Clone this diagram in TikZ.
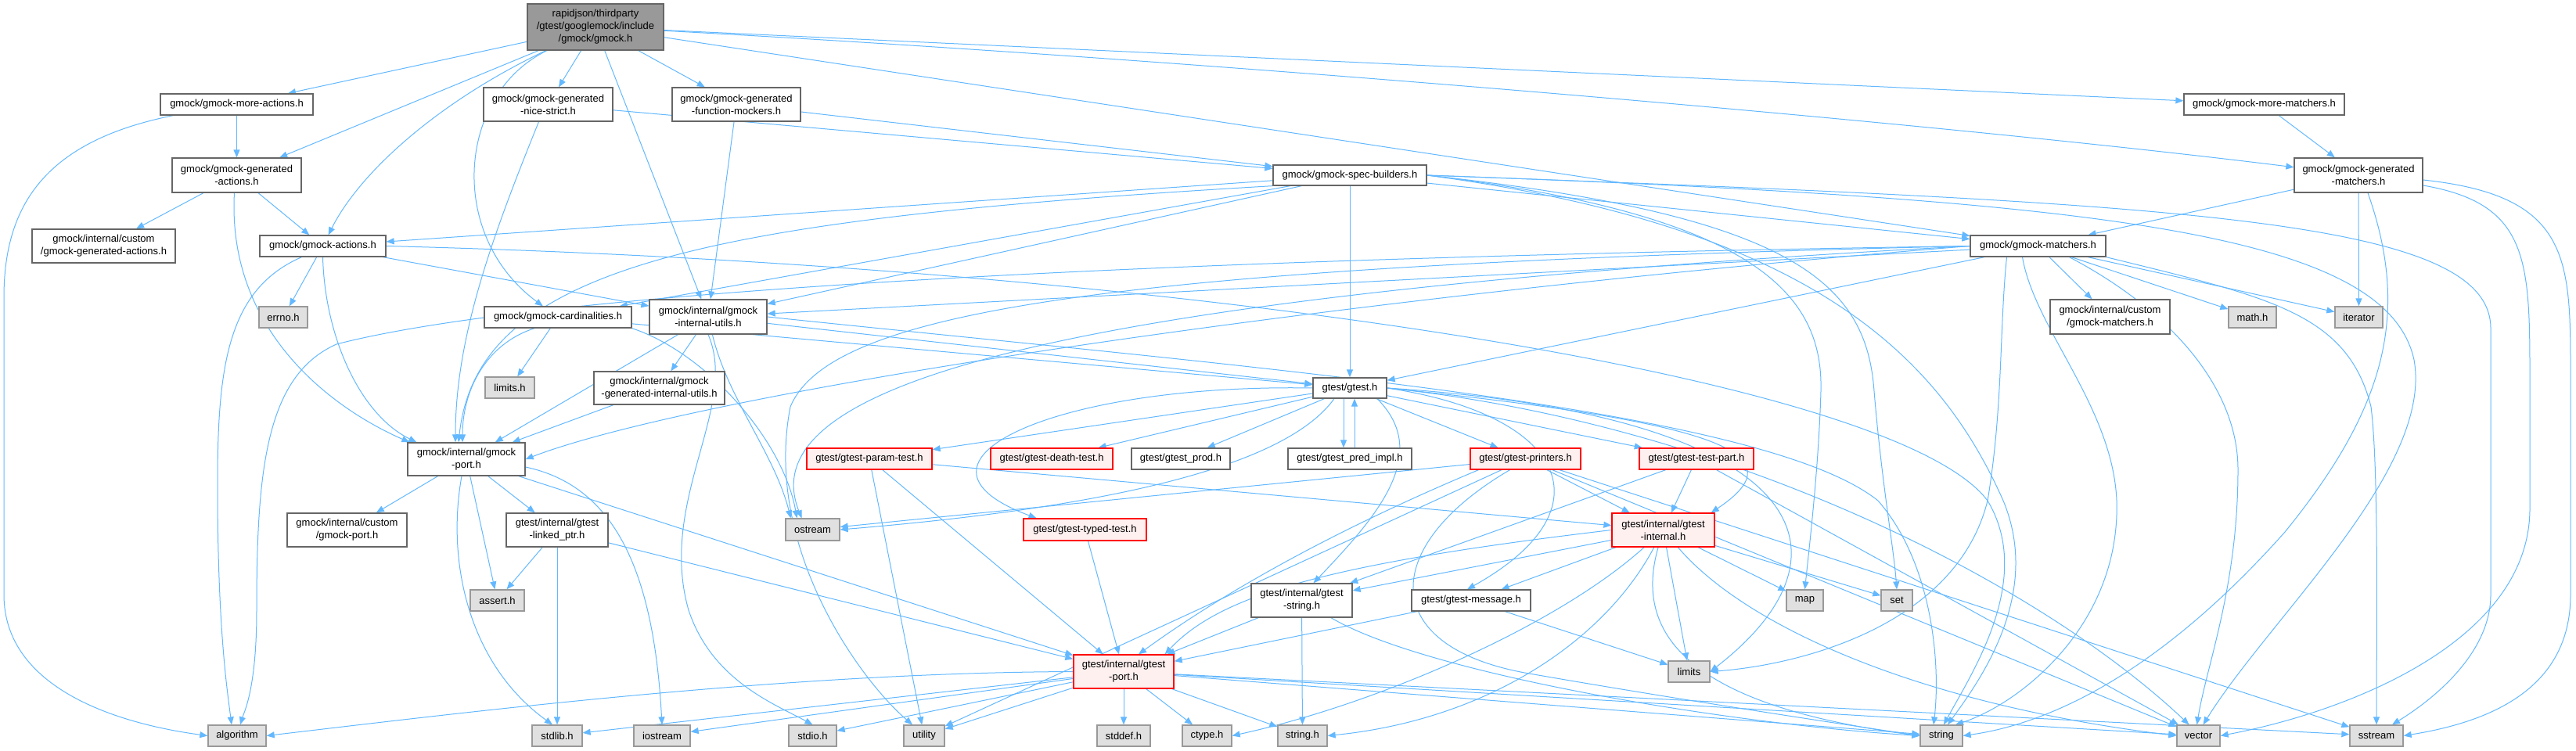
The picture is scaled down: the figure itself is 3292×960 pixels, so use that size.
\documentclass[tikz,border=0pt]{standalone}
\usepackage{fontspec}
\setmainfont{Liberation Sans}
\usetikzlibrary{arrows.meta,backgrounds}
\definecolor{edgec}{RGB}{99,184,255}
\definecolor{nbord}{RGB}{102,102,102}
\definecolor{gbord}{RGB}{153,153,153}
\definecolor{gfill}{RGB}{224,224,224}
\definecolor{rfill}{RGB}{255,240,240}
\definecolor{rootfill}{RGB}{153,153,153}
\newcommand\nd[7]{\node[#1, minimum width={#4-#3}, minimum height={#6-#5}] (#2) at ({(#3+#4)/2},{(#5+#6)/2}) {#7};}
\begin{document}
\begin{tikzpicture}[x=1pt,y=-1pt,
  nb/.style={draw=nbord, fill=white, line width=1.3pt, inner sep=0pt, align=center, font=\fontsize{13}{16}\selectfont},
  gb/.style={nb, draw=gbord, fill=gfill},
  rb/.style={nb, draw=red, fill=rfill},
  rtb/.style={nb, draw=nbord, fill=rootfill},
  ed/.style={draw=edgec, line width=1pt, -{Triangle[length=10pt,width=8pt]}}]
\useasboundingbox (0,0) rectangle (3292,960);
% nodes
\nd{rtb}{root}{674}{848}{5}{64}{rapidjson/thirdparty\\/gtest/googlemock/include\\/gmock/gmock.h}
\nd{nb}{moreact}{205}{400}{120}{147}{gmock/gmock-more-actions.h}
\nd{nb}{nicestrict}{618}{783}{112}{155}{gmock/gmock-generated\\-nice-strict.h}
\nd{nb}{funcmock}{859}{1023}{112}{155}{gmock/gmock-generated\\-function-mockers.h}
\nd{nb}{morematch}{2791}{2996}{120}{147}{gmock/gmock-more-matchers.h}
\nd{nb}{genact}{220}{385}{202}{246}{gmock/gmock-generated\\-actions.h}
\nd{nb}{specb}{1627}{1823}{211}{237}{gmock/gmock-spec-builders.h}
\nd{nb}{genmatch}{2932}{3096}{202}{246}{gmock/gmock-generated\\-matchers.h}
\nd{nb}{customgenact}{41}{224}{293}{336}{gmock/internal/custom\\/gmock-generated-actions.h}
\nd{nb}{actions}{332}{493}{301}{328}{gmock/gmock-actions.h}
\nd{nb}{matchers}{2518}{2691}{301}{328}{gmock/gmock-matchers.h}
\nd{gb}{errno}{331}{393}{392}{419}{errno.h}
\nd{nb}{card}{619}{807}{392}{419}{gmock/gmock-cardinalities.h}
\nd{nb}{intutils}{830}{980}{383}{427}{gmock/internal/gmock\\-internal-utils.h}
\nd{nb}{custommatch}{2620}{2773}{383}{427}{gmock/internal/custom\\/gmock-matchers.h}
\nd{gb}{mathh}{2848}{2909}{392}{419}{math.h}
\nd{gb}{iterator}{2984}{3045}{392}{419}{iterator}
\nd{gb}{limitsh}{620}{683}{482}{509}{limits.h}
\nd{nb}{geninutils}{759}{926}{475}{517}{gmock/internal/gmock\\-generated-internal-utils.h}
\nd{nb}{gtesth}{1678}{1772}{483}{509}{gtest/gtest.h}
\nd{nb}{gmockport}{521}{671}{566}{608}{gmock/internal/gmock\\-port.h}
\nd{rb}{paramtest}{1031}{1191}{573}{600}{gtest/gtest-param-test.h}
\nd{rb}{deathtest}{1266}{1422}{573}{600}{gtest/gtest-death-test.h}
\nd{nb}{prod}{1446}{1572}{573}{600}{gtest/gtest\_prod.h}
\nd{nb}{predimpl}{1646}{1804}{573}{600}{gtest/gtest\_pred\_impl.h}
\nd{rb}{printers}{1879}{2020}{573}{600}{gtest/gtest-printers.h}
\nd{rb}{testpart}{2095}{2241}{573}{600}{gtest/gtest-test-part.h}
\nd{nb}{customport}{367}{520}{656}{699}{gmock/internal/custom\\/gmock-port.h}
\nd{nb}{linkedptr}{647}{777}{656}{699}{gtest/internal/gtest\\-linked\_ptr.h}
\nd{gb}{ostream}{1004}{1073}{663}{691}{ostream}
\nd{rb}{typedtest}{1308}{1465}{663}{691}{gtest/gtest-typed-test.h}
\nd{rb}{gtestinternal}{2060}{2191}{656}{699}{gtest/internal/gtest\\-internal.h}
\nd{gb}{asserth}{601}{670}{754}{781}{assert.h}
\nd{nb}{gteststring}{1599}{1728}{746}{789}{gtest/internal/gtest\\-string.h}
\nd{nb}{message}{1804}{1956}{754}{781}{gtest/gtest-message.h}
\nd{gb}{map}{2283}{2330}{754}{781}{map}
\nd{gb}{set}{2404}{2444}{754}{781}{set}
\nd{rb}{gtestport}{1372}{1500}{837}{880}{gtest/internal/gtest\\-port.h}
\nd{gb}{limits}{2132}{2185}{845}{872}{limits}
\nd{gb}{algorithm}{266}{340}{927}{954}{algorithm}
\nd{gb}{stdlib}{680}{744}{927}{954}{stdlib.h}
\nd{gb}{iostream}{810}{882}{927}{954}{iostream}
\nd{gb}{stdio}{1008}{1069}{927}{954}{stdio.h}
\nd{gb}{utility}{1155}{1207}{927}{954}{utility}
\nd{gb}{stddef}{1402}{1470}{927}{954}{stddef.h}
\nd{gb}{ctype}{1511}{1574}{927}{954}{ctype.h}
\nd{gb}{stringh}{1633}{1696}{927}{954}{string.h}
\nd{gb}{string}{2454}{2508}{927}{954}{string}
\nd{gb}{vector}{2782}{2837}{927}{954}{vector}
\nd{gb}{sstream}{3003}{3071}{927}{954}{sstream}
\begin{scope}[on background layer]
% root
\draw[ed] (root) -- (moreact);
\draw[ed] (root) -- (genact);
\draw[ed] (root) .. controls (560,130) and (460,220) .. (actions);
\draw[ed] (root) .. controls (585,120) and (570,300) .. (card);
\draw[ed] (root) -- (nicestrict);
\draw[ed] (root) -- (intutils);
\draw[ed] (root) -- (funcmock);
\draw[ed] (root) -- (morematch);
\draw[ed] (root) .. controls (1600,80) and (2500,160) .. (genmatch);
\draw[ed] (root) -- (matchers);
% moreact
\draw[ed] ([xshift=17pt]moreact.south west) .. controls (60,180) and (5,260) .. (5,380) -- (5,760) .. controls (5,880) and (150,925) .. (algorithm.west);
\draw[ed] (moreact) -- (genact);
% genact
\draw[ed] (genact) -- (customgenact);
\draw[ed] (genact) -- (actions);
\draw[ed] ([xshift=-3pt]genact.south) .. controls (290,420) and (420,520) .. ([xshift=3pt]gmockport.north west);
% actions
\draw[ed] (actions) -- (errno);
\draw[ed] ([xshift=-27pt]actions.south) .. controls (290,370) and (278,470) .. (278,620) .. controls (278,800) and (290,880) .. ([xshift=-7pt]algorithm.north);
\draw[ed] (actions.south) .. controls (415,430) and (460,530) .. ([xshift=12pt]gmockport.north west);
\draw[ed] (actions.east) .. controls (1500,340) and (2420,480) .. (2540,640) .. controls (2600,740) and (2520,860) .. ([xshift=3pt]string.north);
\draw[ed] (actions) -- (intutils);
% nicestrict
\draw[ed] (nicestrict) -- (specb);
\draw[ed] ([xshift=-12pt]nicestrict.south) .. controls (630,300) and (582,430) .. ([xshift=-14pt]gmockport.north);
% funcmock
\draw[ed] (funcmock) -- (specb);
\draw[ed] (funcmock) -- (intutils);
% morematch
\draw[ed] (morematch) -- (genmatch);
% genmatch
\draw[ed] (genmatch) -- (matchers);
\draw[ed] (genmatch) -- (iterator);
\draw[ed] ([xshift=12pt]genmatch.south) .. controls (3080,400) and (3050,520) .. (2920,680) .. controls (2760,860) and (2620,925) .. (string.east);
\draw[ed] ([yshift=-6pt]genmatch.east) .. controls (3285,250) and (3285,330) .. (3285,480) -- (3285,760) .. controls (3285,870) and (3200,920) .. (sstream.east);
\draw[ed] ([yshift=-13pt]genmatch.east) .. controls (3230,260) and (3233,330) .. (3233,480) -- (3233,650) .. controls (3233,820) and (3000,910) .. (vector.east);
% specb
\draw[ed] (specb) -- (actions);
\draw[ed] (specb) -- (card);
\draw[ed] (specb) -- (intutils);
\draw[ed] (specb.south west) .. controls (900,280) and (610,340) .. ([xshift=-10pt]gmockport.north);
\draw[ed] (specb) -- (gtesth);
\draw[ed] (specb) -- (matchers);
\draw[ed] (specb.east) .. controls (2250,275) and (2330,380) .. (2327,500) .. controls (2324,600) and (2312,700) .. (map.north);
\draw[ed] (specb.east) .. controls (2290,275) and (2385,360) .. (2395,500) .. controls (2405,620) and (2420,700) .. (set.north);
\draw[ed] (specb.east) .. controls (2320,290) and (2480,460) .. (2560,640) .. controls (2610,760) and (2530,870) .. ([xshift=8pt]string.north);
\draw[ed] (specb.east) .. controls (2700,255) and (3050,300) .. (3085,460) .. controls (3110,600) and (2900,790) .. ([xshift=6pt]vector.north);
\draw[ed] (specb.east) .. controls (2800,260) and (3183,280) .. (3183,420) -- (3183,760) .. controls (3183,840) and (3100,900) .. ([xshift=20pt]sstream.north);
% matchers
\draw[ed] (matchers) -- (custommatch);
\draw[ed] (matchers) -- (mathh);
\draw[ed] (matchers) -- (iterator);
\draw[ed] (matchers) -- (intutils);
\draw[ed] (matchers.west) .. controls (1700,380) and (900,500) .. (gmockport.east);
\draw[ed] (matchers) -- (gtesth);
\draw[ed] (matchers.west) .. controls (1500,330) and (700,370) .. (430,440) .. controls (340,480) and (328,600) .. (328,780) .. controls (328,880) and (312,910) .. ([xshift=4pt]algorithm.north);
\draw[ed] (matchers.west) .. controls (1300,380) and (960,500) .. ([xshift=-14pt]ostream.north);
\draw[ed] (matchers.west) .. controls (1400,340) and (1060,400) .. (1010,520) .. controls (975,700) and (1100,870) .. ([xshift=-15pt]utility.north);
\draw[ed] ([xshift=-40pt]matchers.south) .. controls (2555,420) and (2560,520) .. (2540,640) .. controls (2500,800) and (2300,850) .. (limits.east);
\draw[ed] ([xshift=-20pt]matchers.south) .. controls (2600,420) and (2700,520) .. (2705,640) .. controls (2710,800) and (2580,900) .. ([xshift=18pt]string.north);
\draw[ed] ([xshift=40pt]matchers.south) .. controls (2780,400) and (2860,500) .. (2860,600) .. controls (2860,750) and (2820,850) .. ([xshift=-2pt]vector.north);
\draw[ed] (matchers.south east) .. controls (2900,380) and (3000,400) .. (3030,520) .. controls (3040,600) and (3037,800) .. (sstream.north);
% intutils
\draw[ed] (intutils) -- (geninutils);
\draw[ed] (intutils) -- (gmockport);
\draw[ed] (intutils) -- (gtesth);
\draw[ed] (intutils) .. controls (930,510) and (990,580) .. ([xshift=-28pt]ostream.north);
\draw[ed] (intutils.south) .. controls (945,520) and (840,640) .. (880,780) .. controls (910,870) and (990,900) .. (stdio.north);
\draw[ed] (intutils.east) .. controls (1600,470) and (2250,520) .. (2400,640) .. controls (2470,720) and (2480,850) .. ([xshift=-10pt]string.north);
% geninutils
\draw[ed] (geninutils) -- (gmockport);
% card
\draw[ed] (card) -- (limitsh);
\draw[ed] ([xshift=-30pt]card.south) .. controls (620,440) and (591,500) .. ([xshift=-5pt]gmockport.north);
\draw[ed] (card) -- (gtesth);
\draw[ed] (card.south east) .. controls (900,450) and (1000,560) .. ([xshift=-20pt]ostream.north);
% gmockport
\draw[ed] (gmockport) -- (customport);
\draw[ed] (gmockport) -- (linkedptr);
\draw[ed] (gmockport) -- (asserth);
\draw[ed] ([xshift=-6pt]gmockport.south) .. controls (570,720) and (600,850) .. ([xshift=-6pt]stdlib.north);
\draw[ed] ([yshift=-10pt]gmockport.east) .. controls (780,620) and (835,720) .. (iostream.north);
\draw[ed] (gmockport) -- (gtestport);
% linkedptr
\draw[ed] (linkedptr) -- (asserth);
\draw[ed] (linkedptr) -- (stdlib);
\draw[ed] (linkedptr) -- (gtestport);
% gtesth
\draw[ed] (gtesth) -- (paramtest);
\draw[ed] (gtesth) -- (deathtest);
\draw[ed] (gtesth) -- (prod);
\draw[ed] ([xshift=-20pt]gtesth.south) .. controls (1640,600) and (1400,650) .. (ostream.east);
\draw[ed] (gtesth.west) .. controls (1350,490) and (1130,590) .. ([xshift=-62pt]typedtest.north);
\draw[ed] ([xshift=-8pt]gtesth.south) -- ([xshift=-8pt]predimpl.north);
\draw[ed] ([xshift=6pt]predimpl.north) -- ([xshift=6pt]gtesth.south);
\draw[ed] ([xshift=35pt]gtesth.south) .. controls (1830,580) and (1760,660) .. ([xshift=15pt]gteststring.north);
\draw[ed] (gtesth) -- (printers);
\draw[ed] (gtesth) -- (testpart);
\draw[ed] (gtesth.east) .. controls (2200,540) and (2300,580) .. ([xshift=-5pt]gtestinternal.north east);
\draw[ed] (gtesth.east) .. controls (2000,530) and (2060,650) .. ([xshift=-5pt]message.north);
\draw[ed] (gtesth.east) .. controls (2300,530) and (2390,700) .. (limits.east);
\draw[ed] (gtesth.east) .. controls (2200,540) and (2600,740) .. ([xshift=-12pt]vector.north);
% paramtest
\draw[ed] (paramtest) -- (utility);
\draw[ed] (paramtest) -- (gtestport);
\draw[ed] (paramtest) -- (gtestinternal);
% typedtest
\draw[ed] (typedtest) -- (gtestport);
% printers
\draw[ed] (printers) -- (ostream);
\draw[ed] (printers) -- (sstream);
\draw[ed] (printers) -- (vector);
\draw[ed] ([xshift=-20pt]printers.south) .. controls (1760,700) and (1760,830) .. (1960,862) .. controls (2150,895) and (2350,925) .. (string.west);
\draw[ed] (printers) -- (utility);
\draw[ed] ([xshift=-60pt]printers.south) .. controls (1700,680) and (1560,760) .. ([xshift=19pt]gtestport.north);
\draw[ed] (printers) -- (gtestinternal);
% testpart
\draw[ed] (testpart) -- (gteststring);
\draw[ed] (testpart) -- (gtestinternal);
\draw[ed] (testpart) -- (vector);
% message
\draw[ed] (message) -- (limits);
\draw[ed] (message) -- (gtestport);
% gteststring
\draw[ed] (gteststring) -- (stringh);
\draw[ed] (gteststring) .. controls (1820,860) and (2200,925) .. (string.west);
\draw[ed] (gteststring) -- (gtestport);
% gtestinternal
\draw[ed] (gtestinternal.west) .. controls (1700,720) and (1560,760) .. ([xshift=-12pt]gtestport.north east);
\draw[ed] (gtestinternal) -- (gteststring);
\draw[ed] (gtestinternal) -- (message);
\draw[ed] (gtestinternal) .. controls (1990,800) and (1760,900) .. (ctype.east);
\draw[ed] (gtestinternal) .. controls (2050,820) and (1900,920) .. (stringh.east);
\draw[ed] (gtestinternal) .. controls (2090,800) and (2140,900) .. (string.west);
\draw[ed] (gtestinternal) -- (limits);
\draw[ed] (gtestinternal) .. controls (2230,800) and (2450,900) .. (vector.west);
\draw[ed] (gtestinternal) -- (map);
\draw[ed] (gtestinternal) -- (set);
% gtestport
\draw[ed] (gtestport.west) .. controls (1000,860) and (600,910) .. (algorithm.east);
\draw[ed] (gtestport) -- (stdlib);
\draw[ed] (gtestport) -- (iostream);
\draw[ed] (gtestport) -- (stdio);
\draw[ed] (gtestport) -- (utility);
\draw[ed] (gtestport) -- (stddef);
\draw[ed] (gtestport) -- (ctype);
\draw[ed] (gtestport) -- (stringh);
\draw[ed] (gtestport) -- (string);
\draw[ed] (gtestport) -- (vector);
\draw[ed] (gtestport) -- (sstream);
\end{scope}
\end{tikzpicture}
\end{document}
